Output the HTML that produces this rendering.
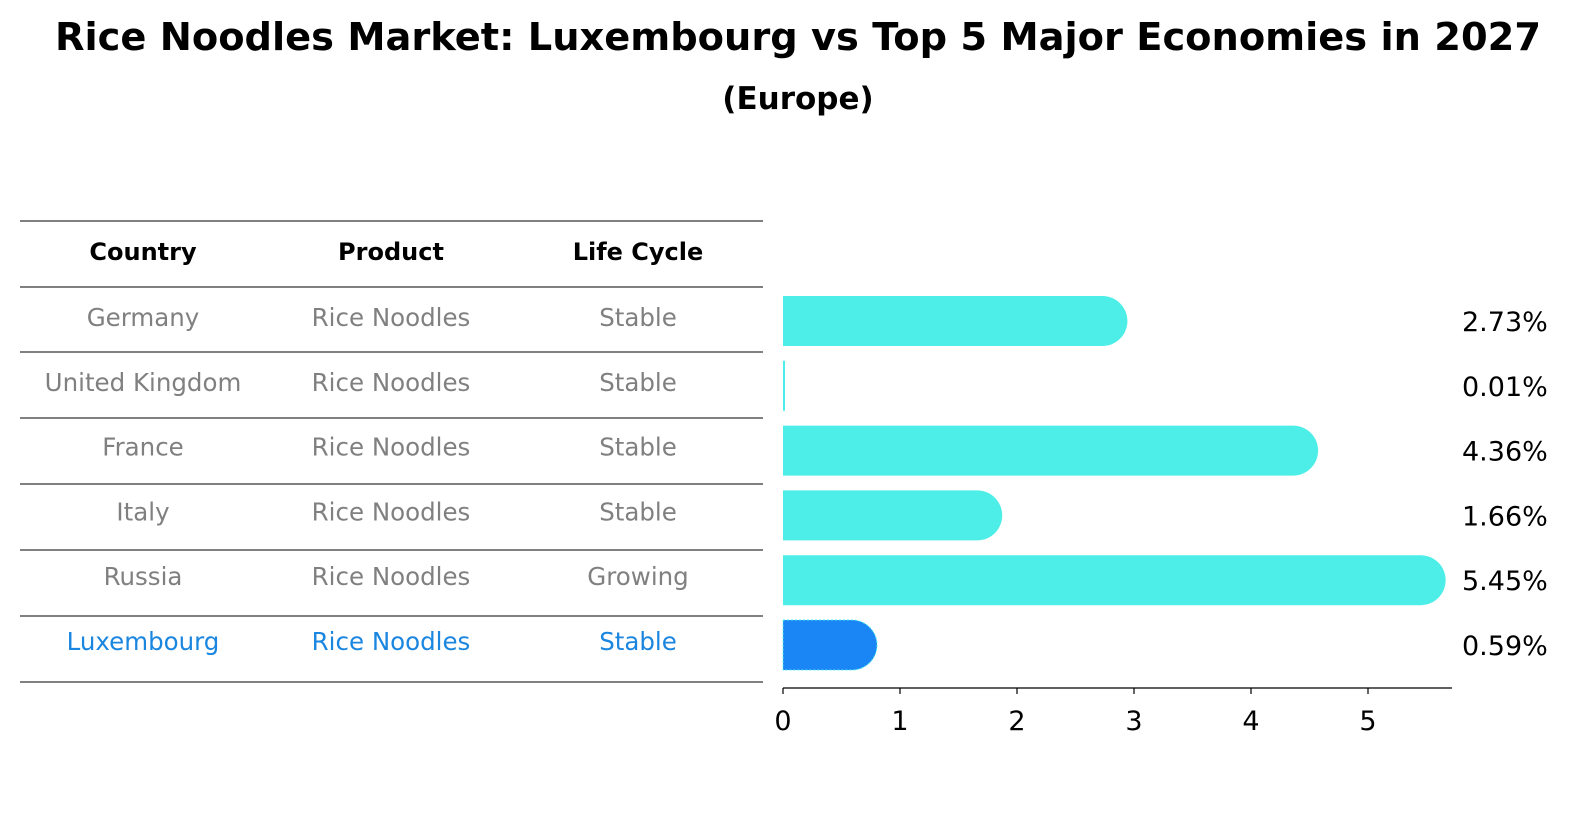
<!DOCTYPE html>
<html><head><meta charset="utf-8"><style>
html,body{margin:0;padding:0;background:#fff;overflow:hidden;width:1586px;height:823px;font-family:"DejaVu Sans","Liberation Sans",sans-serif;}
svg{display:block;}
</style></head><body>
<svg width="1586" height="823" xmlns="http://www.w3.org/2000/svg" font-family="DejaVu Sans, Liberation Sans, sans-serif">
<text x="798" y="50" text-anchor="middle" font-size="38" font-weight="bold" textLength="1486" lengthAdjust="spacingAndGlyphs">Rice Noodles Market: Luxembourg vs Top 5 Major Economies in 2027</text>
<text x="798" y="109" text-anchor="middle" font-size="31" font-weight="bold">(Europe)</text>
<g id="table"></g>
<g id="bars"></g>
</svg>
<script>
const countries=["Germany","United Kingdom","France","Italy","Russia","Luxembourg"];
const products=["Rice Noodles","Rice Noodles","Rice Noodles","Rice Noodles","Rice Noodles","Rice Noodles"];
const lifeCycles=["Stable","Stable","Stable","Stable","Growing","Stable"];
const values=[2.73,0.01,4.36,1.66,5.45,0.59];
const valueLabels=["2.73%","0.01%","4.36%","1.66%","5.45%","0.59%"];
const ticks=[0,1,2,3,4,5];
const NS="http://www.w3.org/2000/svg";
function mk(t,a,p){const e=document.createElementNS(NS,t);for(const k in a)e.setAttribute(k,a[k]);p.appendChild(e);return e;}
const x=v=>783+v*117;
const rowY=i=>321+i*64.8;
const tbl=document.getElementById('table'),bars=document.getElementById('bars');
const lineYs=[221,287,352,418,484,550,616,682];
lineYs.forEach(y=>{const l=mk('line',{x1:20,x2:763,y1:y,y2:y,stroke:'#000','stroke-width':1},tbl);

});
const cols=[143,391,638],heads=["Country","Product","Life Cycle"];
heads.forEach((h,j)=>{const t=mk('text',{x:cols[j],y:260,'text-anchor':'middle','font-size':24,'font-weight':'bold'},tbl);t.textContent=h;

});
countries.forEach((c,i)=>{
 const col=i===5?'#1a86e0':'#808080';
 [c,products[i],lifeCycles[i]].forEach((v,j)=>{const t=mk('text',{x:cols[j],y:rowY(i)+5,'text-anchor':'middle','font-size':24.5,fill:col},tbl);t.textContent=v;
 
 });
 const y=rowY(i),h=50,x0=x(0),x1=x(values[i]),r=25;
 const fill=i===5?'#1a86f5':'#4deee8';
 let d;
 if(x1-x0>5){d=`M${x0},${y-h/2}H${x1}A${r},${r} 0 0 1 ${x1},${y+h/2}H${x0}Z`;}
 else{d=`M${x0},${y-h/2}H${x0+2}V${y+h/2}H${x0}Z`;}
 const b=mk('path',{d:d,fill:fill},bars);
 if(i===5){b.setAttribute('stroke','#4deee8');b.setAttribute('stroke-dasharray','2,2');b.setAttribute('stroke-width','1');}
 
 
 const t=mk('text',{x:1462,y:y+10,'font-size':27},bars);t.textContent=valueLabels[i];
 
 
});
const ax=mk('line',{x1:783,x2:1452,y1:688,y2:688,stroke:'#000','stroke-width':1.3},bars);


ticks.forEach(v=>{const l=mk('line',{x1:x(v),x2:x(v),y1:688,y2:694,stroke:'#000','stroke-width':1.2},bars);


const t=mk('text',{x:x(v),y:730,'text-anchor':'middle','font-size':27},bars);t.textContent=v;

});
</script>
</body></html>
